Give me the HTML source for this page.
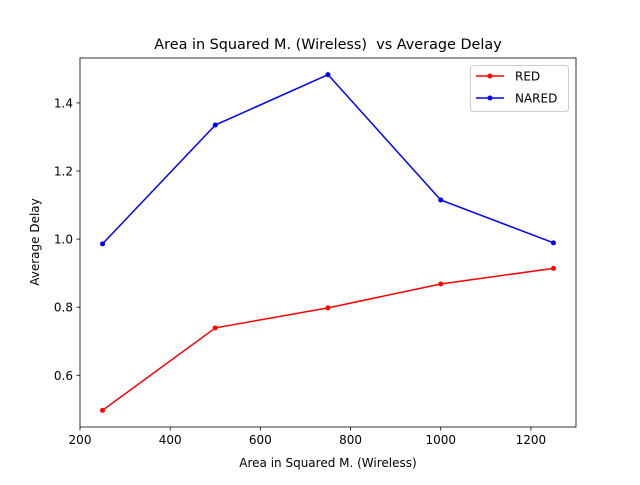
<!DOCTYPE html>
<html><head><meta charset="utf-8"><style>
body{margin:0;background:#fff;font-family:"Liberation Sans","DejaVu Sans",sans-serif;}
svg text{font-family:"DejaVu Sans","Liberation Sans",sans-serif;}
</style></head><body>
<svg id="chart" width="640" height="480"></svg>
<script>
const xCategories=[250,500,750,1000,1250];
const redValues=[0.497,0.739,0.798,0.868,0.914];
const naredValues=[0.986,1.335,1.483,1.115,0.989];
const xTicks=[200,400,600,800,1000,1200];
const yTicks=[0.6,0.8,1.0,1.2,1.4];
const yTickLabels=["0.6","0.8","1.0","1.2","1.4"];
const L=80,R=576,T=58,B=427,xmin=200,xmax=1300,ymin=0.448,ymax=1.532;
const sx=v=>L+(v-xmin)/(xmax-xmin)*(R-L);
const sy=v=>B-(v-ymin)/(ymax-ymin)*(B-T);
const NS="http://www.w3.org/2000/svg";
const svg=document.getElementById('chart');
function mk(t,a,p){const e=document.createElementNS(NS,t);for(const k in a)e.setAttribute(k,a[k]);(p||svg).appendChild(e);return e;}
let e;
e=mk('text',{x:328,y:49,'text-anchor':'middle','font-size':14.4,fill:'#000',style:'white-space:pre'});e.textContent='Area in Squared M. (Wireless)  vs Average Delay';


xTicks.forEach(v=>{const x=sx(v);
 e=mk('line',{x1:x,x2:x,y1:B,y2:B+3.5,stroke:'#000','stroke-width':0.8});
 
 
 e=mk('text',{x:x,y:B+17,'text-anchor':'middle','font-size':12,fill:'#000'});e.textContent=v;
 
 });
yTicks.forEach((v,i)=>{const y=sy(v);
 e=mk('line',{x1:L-3.5,x2:L,y1:y,y2:y,stroke:'#000','stroke-width':0.8});
 
 
 e=mk('text',{x:L-7,y:y+4.5,'text-anchor':'end','font-size':12,fill:'#000'});e.textContent=yTickLabels[i];
 
 });
e=mk('text',{x:328,y:467,'text-anchor':'middle','font-size':12,fill:'#000'});e.textContent='Area in Squared M. (Wireless)';


e=mk('text',{x:0,y:0,'text-anchor':'middle','font-size':12,fill:'#000',transform:'translate(39,242) rotate(-90)'});e.textContent='Average Delay';


function series(vals,color,name){
 const pts=vals.map((v,i)=>sx(xCategories[i])+','+sy(v)).join(' ');
 e=mk('polyline',{points:pts,fill:'none',stroke:color,'stroke-width':1.5});
 
 
 vals.forEach((v,i)=>{e=mk('circle',{cx:sx(xCategories[i]),cy:sy(v),r:2.5,fill:color});
  
  });
}
series(redValues,'#ff0000','red');
series(naredValues,'#0000ff','nared');
e=mk('rect',{x:L,y:T,width:R-L,height:B-T,fill:'none',stroke:'#000','stroke-width':0.8});


const lg=mk('g',{});


mk('rect',{x:470.5,y:65.5,width:98,height:46,rx:3,fill:'#fff',stroke:'#ccc','stroke-width':1},lg);
[['RED','#ff0000',76],['NARED','#0000ff',98]].forEach(([n,c,y])=>{
 e=mk('line',{x1:476,x2:504,y1:y,y2:y,stroke:c,'stroke-width':1.5},lg);
 
 
 mk('circle',{cx:490,cy:y,r:2.5,fill:c},lg);
 e=mk('text',{x:515,y:y+4.5,'font-size':12,fill:'#000'},lg);e.textContent=n;
 
 });
</script>
</body></html>
